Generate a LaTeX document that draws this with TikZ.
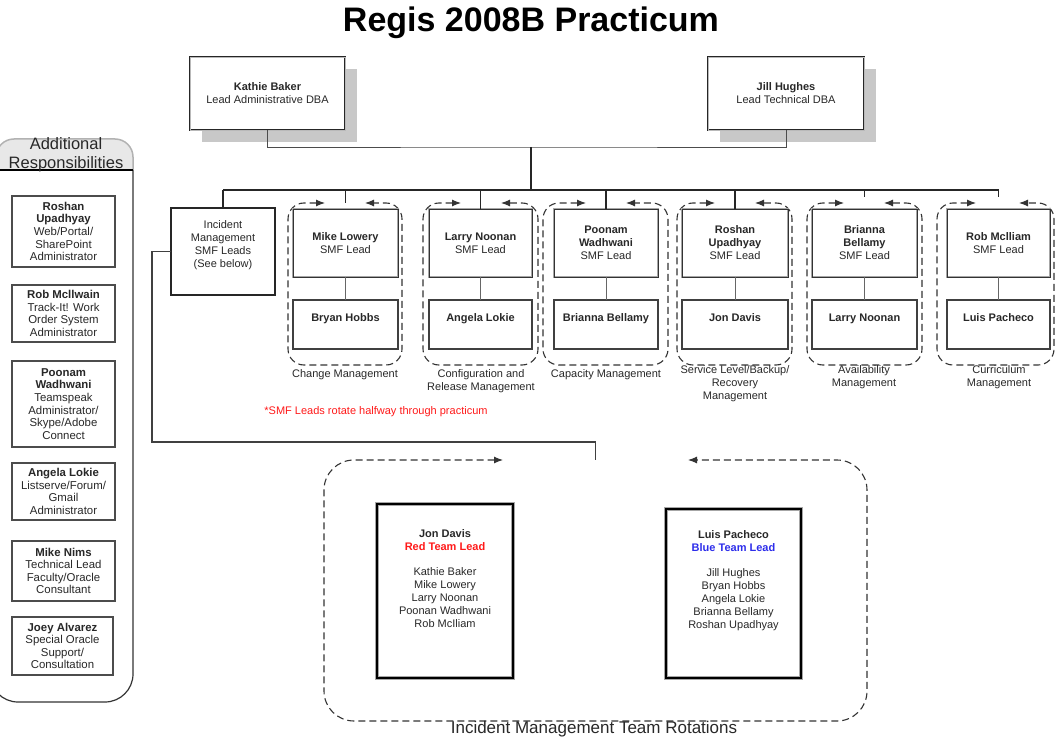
\documentclass[tikz,border=0pt]{standalone}
\usepackage{fontspec}
\setmainfont{Liberation Sans}
\usetikzlibrary{arrows.meta,calc}
\definecolor{txt}{RGB}{40,40,40}
\definecolor{tred}{RGB}{255,25,25}
\definecolor{tblue}{RGB}{45,45,235}
\definecolor{shadowgray}{RGB}{200,200,200}
\newcommand{\fA}{\fontsize{11}{13}\selectfont}
\newcommand{\fP}{\fontsize{11.4}{12.6}\selectfont}
\newcommand{\fH}{\fontsize{16.5}{19}\selectfont}
\newcommand{\fB}{\fontsize{17}{20}\selectfont}
\newcommand{\fT}{\fontsize{34}{40}\selectfont}
\begin{document}
\begin{tikzpicture}[x=1pt,y=-1pt,
  every node/.style={inner sep=0pt,outer sep=0pt},
  txtnode/.style={font=\fA,align=center,text=txt},
  dba/.style={draw=black!85,line width=0.9pt,double=gray!55,double distance=0.8pt,fill=white,font=\fA,align=center,text=txt,anchor=north west},
  leadbox/.style={draw=gray!70,line width=1pt,double=black!80,double distance=0.9pt,fill=white,font=\fA,align=center,text=txt,anchor=north west,minimum height=68pt},
  member/.style={draw=black!75,line width=1.1pt,fill=white,font=\fA,text=txt,anchor=north west,minimum height=49pt,text height=8pt,text depth=15pt},
  incbox/.style={draw=black!85,line width=1.1pt,fill=white,anchor=north west},
  teambox/.style={draw=gray!70,line width=0.8pt,double=black,double distance=1.6pt,fill=white,anchor=north west},
  lbox/.style={draw=black!70,line width=1.2pt,fill=white,font=\fP,align=center,text=txt,anchor=north west,minimum width=103pt},
  conn/.style={draw=black!85,line width=1.1pt},
  link/.style={draw=black!60,line width=1pt},
  grp/.style={draw=black!80,line width=1.1pt,dash pattern=on 7pt off 4pt,rounded corners=16pt,{Latex[length=9pt,width=7pt]}-{Latex[length=9pt,width=7pt]}},
  lbl/.style={font=\fA,align=center,text=txt}
]
\useasboundingbox (0,0) rectangle (1057,738);
\clip (0,0) rectangle (1057,738);

% title
\node[font=\fT\bfseries,text=black,anchor=base] (title) at (531,32) {Regis 2008B Practicum};

% DBA leads
\fill[shadowgray] (202,69) rectangle (357,142);
\node[dba,minimum width=155pt,minimum height=73pt] (kb) at (190,57) {\textbf{Kathie Baker}\\Lead Administrative DBA};
\fill[shadowgray] (720,69) rectangle (876,142);
\node[dba,minimum width=156pt,minimum height=73pt] (jh) at (708,57) {\textbf{Jill Hughes}\\Lead Technical DBA};

\coordinate (hub) at (531,147);
\coordinate (bus) at (531,190);
\draw[link,draw=black!70,line width=0.9pt] (kb.south) |- (hub) -| (jh.south);
\draw[conn,line width=1.4pt] (hub) -- (bus);

% group containers
\draw[grp] (325,203) -- (288,203) -- (288,365) -- (402,365) -- (402,203) -- (365,203);
\draw[grp] (461,203) -- (423,203) -- (423,365) -- (538,365) -- (538,203) -- (501,203);
\draw[grp] (586,203) -- (543,203) -- (543,365) -- (668,365) -- (668,203) -- (626,203);
\draw[grp] (715,203) -- (677,203) -- (677,365) -- (792,365) -- (792,203) -- (755,203);
\draw[grp] (844,203) -- (807,203) -- (807,365) -- (922,365) -- (922,203) -- (884,203);
\draw[grp] (976,203) -- (937,203) -- (937,365) -- (1054,365) -- (1054,203) -- (1019,203);

% incident box
\node[incbox,minimum width=104pt,minimum height=87pt] (inc) at (171,208) {};
\node[txtnode] (inct) at (223,245) {Incident\\Management\\SMF Leads\\(See below)};

% SMF leads
\node[leadbox,minimum width=105pt] (ml) at (293,209) {\textbf{Mike Lowery}\\SMF Lead};
\node[leadbox,minimum width=103pt] (ln) at (429,209) {\textbf{Larry Noonan}\\SMF Lead};
\node[leadbox,minimum width=104pt] (pw) at (554,209) {\textbf{Poonam}\\\textbf{Wadhwani}\\SMF Lead};
\node[leadbox,minimum width=106pt] (ru) at (682,209) {\textbf{Roshan}\\\textbf{Upadhyay}\\SMF Lead};
\node[leadbox,minimum width=105pt] (bb) at (812,209) {\textbf{Brianna}\\\textbf{Bellamy}\\SMF Lead};
\node[leadbox,minimum width=103pt] (rm) at (947,209) {\textbf{Rob Mclliam}\\SMF Lead};

% members
\node[member,minimum width=105pt] (bh) at (293,300) {\textbf{Bryan Hobbs}};
\node[member,minimum width=103pt] (al) at (429,300) {\textbf{Angela Lokie}};
\node[member,minimum width=104pt] (brb) at (554,300) {\textbf{Brianna Bellamy}};
\node[member,minimum width=106pt] (jd) at (682,300) {\textbf{Jon Davis}};
\node[member,minimum width=105pt] (lno) at (812,300) {\textbf{Larry Noonan}};
\node[member,minimum width=103pt] (lp) at (947,300) {\textbf{Luis Pacheco}};

\draw[link] (ml) -- (bh);
\draw[link] (ln) -- (al);
\draw[link] (pw) -- (brb);
\draw[link] (ru) -- (jd);
\draw[link] (bb) -- (lno);
\draw[link] (rm) -- (lp);

% bus and drops
\draw[conn] (bus -| inc.north) -- (bus -| rm.north);
\draw[conn] (bus -| inc.north) -- (inc.north);
\draw[conn,shorten >=6pt] (bus -| ml.north) -- (ml.north);
\draw[conn] (bus -| ln.north) -- (ln.north);
\draw[conn] (bus -| pw.north) -- (pw.north);
\draw[conn] (bus -| ru.north) -- (ru.north);
\draw[conn,shorten >=12pt] (bus -| bb.north) -- (bb.north);
\draw[conn,shorten >=12pt] (bus -| rm.north) -- (rm.north);

% group labels
\node[lbl] (l1) at (345,374.5) {Change Management};
\node[lbl] (l2) at (481,381.5) {Configuration and\\Release Management};
\node[lbl] (l3) at (606,374.5) {Capacity Management};
\node[lbl] (l4) at (735,383.5) {Service Level/Backup/\\Recovery\\Management};
\node[lbl] (l5) at (864,377) {Availability\\Management};
\node[lbl] (l6) at (999,377) {Curriculum\\Management};

\node[font=\fA,text=tred] (note) at (376,411.5) {*SMF Leads rotate halfway through practicum};

% incident rotations
\coordinate (rottop) at (595.5,460);
\draw[conn,draw=black!75] (inc.west) -- ++(-19,0) |- ($(rottop)+(0,-18)$) -- (rottop);
\draw[grp,rounded corners=30pt] (503,460) -- (324,460) -- (324,721) -- (867,721) -- (867,460) -- (688,460);

\node[teambox,minimum width=136pt,minimum height=174pt] (red) at (377,504) {};
\node[txtnode] (redt) at (445,578.5) {\textbf{Jon Davis}\\\textcolor{tred}{\textbf{Red Team Lead}}\\[12pt]Kathie Baker\\Mike Lowery\\Larry Noonan\\Poonan Wadhwani\\Rob McIliam};
\node[teambox,minimum width=135pt,minimum height=169pt] (blue) at (666,509) {};
\node[txtnode] (bluet) at (733.5,580.5) {\textbf{Luis Pacheco}\\\textcolor{tblue}{\textbf{Blue Team Lead}}\\[12pt]Jill Hughes\\Bryan Hobbs\\Angela Lokie\\Brianna Bellamy\\Roshan Upadhyay};

\node[font=\fB,text=txt,anchor=base] (rotl) at (594,733) {Incident Management Team Rotations};

% additional responsibilities panel
\draw[black!80,line width=1.2pt,rounded corners=28pt] (133,170) -- (133,702) -- (-10,702) -- (-10,170);
\filldraw[fill=gray!18,draw=gray!60,line width=1.5pt,rounded corners=18pt] (-4,170) -- (-4,139) -- (133,139) -- (133,170);
\draw[black,line width=1.2pt] (0,170) -- (133,170);
\node[font=\fH,text=txt,align=center] (hdr) at (66,155) {Additional\\Responsibilities};

\node[lbox,minimum height=71pt] (a1) at (12,196) {\textbf{Roshan}\\\textbf{Upadhyay}\\Web/Portal/\\SharePoint\\Administrator};
\node[lbox,minimum height=57pt] (a2) at (12,285) {\textbf{Rob Mcllwain}\\Track-It! Work\\Order System\\Administrator};
\node[lbox,minimum height=86pt] (a3) at (12,361) {\textbf{Poonam}\\\textbf{Wadhwani}\\Teamspeak\\Administrator/\\Skype/Adobe\\Connect};
\node[lbox,minimum height=57pt] (a4) at (12,463) {\textbf{Angela Lokie}\\Listserve/Forum/\\Gmail\\Administrator};
\node[lbox,minimum height=60pt] (a5) at (12,541) {\textbf{Mike Nims}\\Technical Lead\\Faculty/Oracle\\Consultant};
\node[lbox,minimum width=101pt,minimum height=58pt] (a6) at (12,617) {\textbf{Joey Alvarez}\\Special Oracle\\Support/\\Consultation};
\end{tikzpicture}
\end{document}
